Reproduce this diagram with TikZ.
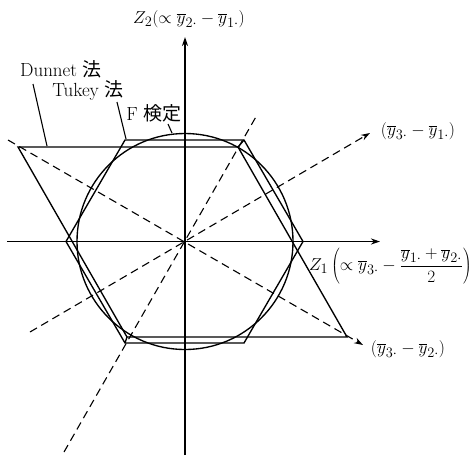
\documentclass[tikz,border=0pt]{standalone}
\usepackage{fontspec}
\newfontfamily\cjk{Noto Sans CJK JP}
\usetikzlibrary{arrows.meta}
\begin{document}
\begin{tikzpicture}[x=1pt,y=-1pt,
  axis/.style={line width=1.4pt,-{Stealth[length=9pt,width=6pt]}},
  region/.style={line width=1.35pt},
  guide/.style={line width=1.1pt,dash pattern=on 8pt off 5pt},
  guidearrow/.style={guide,-{Stealth[length=9pt,width=6pt]}},
  lbl/.style={font=\fontsize{19}{23}\selectfont,inner sep=0pt},
  pointer/.style={line width=1.1pt}]
\useasboundingbox (0,0) rectangle (473,456);
\coordinate (O) at (185,241.5);
% axes
\coordinate (xl) at (7,241.5);
\coordinate (xr) at (380,241.5);
\coordinate (yb) at (185,455);
\coordinate (yt) at (185,37);
\draw[axis] (xl) -- (xr);
\draw[axis] (yb) -- (yt);
% dashed directions
\coordinate (d1a) at (30,332);
\coordinate (d1b) at (370,133);
\coordinate (d2a) at (8,140);
\coordinate (d2b) at (363,345);
\coordinate (d3a) at (64,452);
\coordinate (d3b) at (257,115);
\draw[guidearrow] (d1a) -- (d1b);
\draw[guidearrow] (d2a) -- (d2b);
\draw[guide] (d3a) -- (d3b);
% F test circle
\draw[region] (O) circle[radius=108pt];
% Tukey hexagon
\coordinate (tL) at (66,241.5);
\coordinate (tTL) at (125,140);
\coordinate (tTR) at (244,140);
\coordinate (tR) at (303,241.5);
\coordinate (tBR) at (244,343);
\coordinate (tBL) at (125,343);
\draw[region] (tL) -- (tTL) -- (tTR) -- (tR) -- (tBR) -- (tBL) -- cycle;
% Dunnet parallelogram
\coordinate (dTL) at (18,147);
\coordinate (dTR) at (238,147);
\coordinate (dBR) at (347,337);
\coordinate (dBL) at (127,337);
\draw[region] (dTL) -- (dTR) -- (dBR) -- (dBL) -- cycle;
\draw[region] (dTR) -- (tTR);
\draw[region] (dBL) -- (tBL);
% labels
\node[lbl] (z2) at (189,19) {$Z_2(\propto\overline{y}_{2\cdot}-\overline{y}_{1\cdot})$};
\node[lbl] (dun) at (61,69) {Dunnet {\cjk 法}};
\node[lbl] (tuk) at (88,90) {Tukey {\cjk 法}};
\node[lbl] (fte) at (154,113) {F {\cjk 検定}};
\node[lbl] (l31) at (418,131) {$(\overline{y}_{3\cdot}-\overline{y}_{1\cdot})$};
\node[lbl,anchor=east] (z1) at (472,266) {$Z_1\left(\propto\overline{y}_{3\cdot}-{\displaystyle\frac{\overline{y}_{1\cdot}+\overline{y}_{2\cdot}}{2}}\right)$};
\node[lbl] (l32) at (408,349) {$(\overline{y}_{3\cdot}-\overline{y}_{2\cdot})$};
% pointers
\coordinate (pd) at (47,146);
\coordinate (pt) at (126,139);
\coordinate (pf) at (172,133);
\draw[pointer] (33,84) -- (pd);
\draw[pointer] (117,102) -- (pt);
\draw[pointer] (168,124) -- (pf);
\end{tikzpicture}
\end{document}
